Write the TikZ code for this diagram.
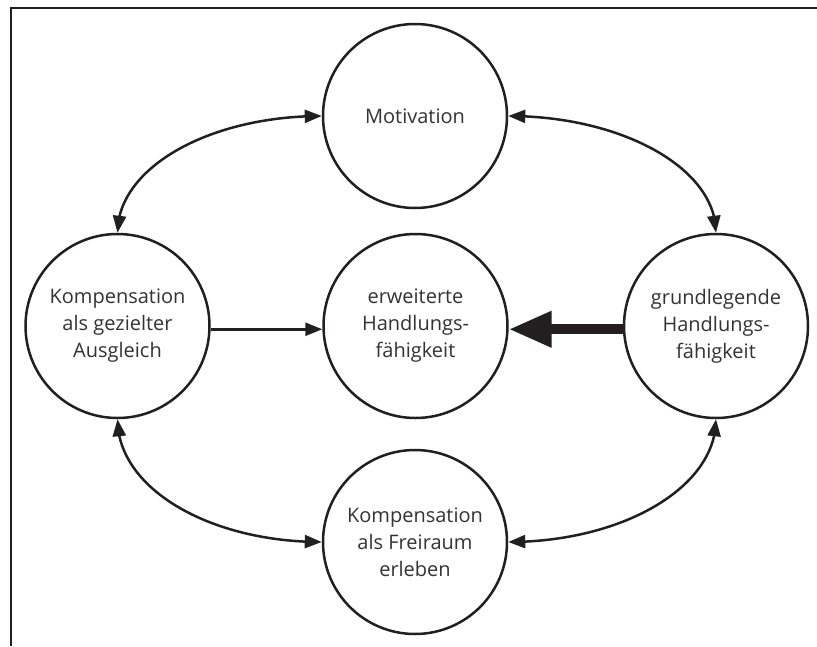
\documentclass[tikz,border=0pt]{standalone}
\usepackage{fontspec}
\setmainfont{Open Sans}
\usetikzlibrary{arrows.meta,bending}
\definecolor{ink}{HTML}{231F20}
\definecolor{txt}{HTML}{333333}
\begin{document}
\begin{tikzpicture}[x=1pt,y=-1pt,
  circ/.style={circle,draw=ink,line width=2.5pt,minimum size=184pt,inner sep=0pt,
    align=center,font=\fontsize{20}{27}\selectfont,text=txt},
  dbl/.style={draw=ink,line width=2.5pt,
    {Triangle[length=17pt,width=13pt]}-{Triangle[length=17pt,width=13pt]}},
  thinarrow/.style={draw=ink,line width=2.5pt,-{Triangle[length=17pt,width=13pt]}},
  thickarrow/.style={draw=ink,line width=10pt,-{Triangle[length=43pt,width=34pt]}},
  frame/.style={draw=ink,line width=2pt}]
\useasboundingbox (0,0) rectangle (817,646);
\fill[white] (0,0) rectangle (817,646);
\draw[frame] (11,646) -- (11,8) -- (817,8);

\node[circ] (T) at (415,116) {Motivation};
\node[circ] (L) at (117.5,326) {Kompensation\\als gezielter\\Ausgleich};
\node[circ] (M) at (415.5,326) {erweiterte\\Handlungs-\\fähigkeit};
\node[circ] (R) at (716,326) {grundlegende\\Handlungs-\\fähigkeit};
\node[circ] (B) at (415,542) {Kompensation\\als Freiraum\\erleben};

\draw[thinarrow] (L.-2.5) -- (M.182.5);
\draw[thickarrow] (R.182.5) -- (M.-2.5);

\draw[dbl] (T.west) .. controls +(-113,0) and +(0,-65) .. (L.north);
\draw[dbl] (T.east) .. controls +(113,0) and +(0,-65) .. (R.north);
\draw[dbl] (L.south) .. controls +(0,69) and +(-113,0) .. (B.west);
\draw[dbl] (R.south) .. controls +(0,69) and +(113,0) .. (B.east);
\end{tikzpicture}
\end{document}
